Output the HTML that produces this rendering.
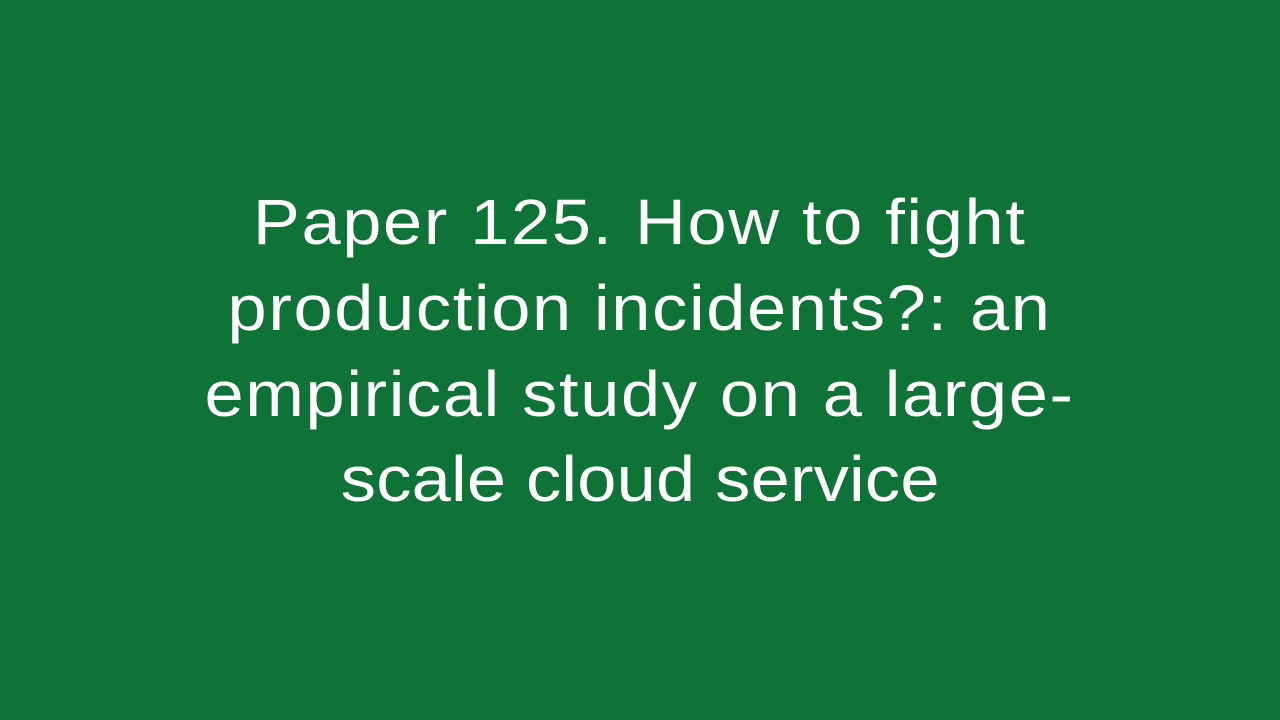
<!DOCTYPE html>
<html><head><meta charset="utf-8"><style>
html,body{margin:0;padding:0;}
body{width:1280px;height:720px;background:#0f7236;overflow:hidden;position:relative;font-family:"Liberation Sans",sans-serif;color:#fff;}
.l{position:absolute;left:0;width:1280px;text-align:center;font-size:64px;line-height:1;white-space:nowrap;}
.l span{display:inline-block;transform:scaleX(1.1);letter-spacing:1.5px;}
</style></head><body>
<div class="l" style="top:190px"><span>Paper 125. How to fight</span></div>
<div class="l" style="top:276px"><span>production incidents?: an</span></div>
<div class="l" style="top:362px"><span>empirical study on a large-</span></div>
<div class="l" style="top:447px"><span style="letter-spacing:0.2px">scale cloud service</span></div>
</body></html>
